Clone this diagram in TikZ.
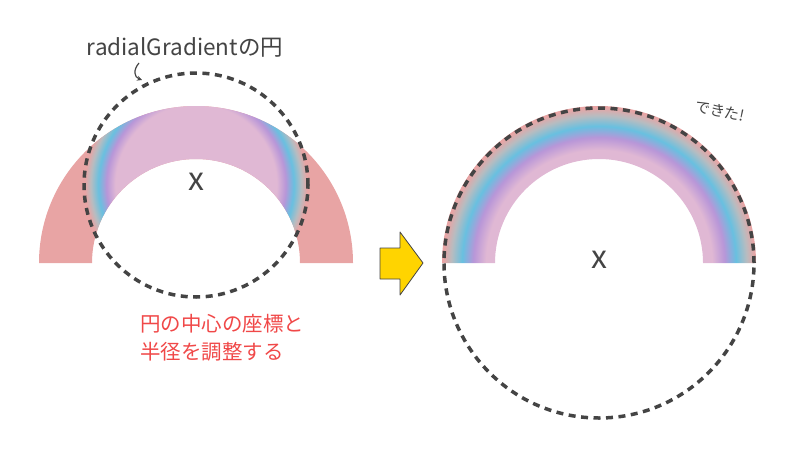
\documentclass[tikz,border=0pt]{standalone}
\usepackage{fontspec}
\usetikzlibrary{arrows.meta}
\setmainfont{Noto Sans CJK JP}
\definecolor{pinkr}{HTML}{E8A4A4}
\definecolor{lilac}{HTML}{E0B8D4}
\definecolor{purp}{HTML}{B896D8}
\definecolor{skyb}{HTML}{68C0E0}
\definecolor{greyb}{HTML}{B8BCC0}
\definecolor{dk}{HTML}{444444}
\definecolor{redt}{HTML}{F04848}
\definecolor{yel}{HTML}{FFD400}
\pgfdeclareradialshading{rainbow}{\pgfpoint{0bp}{0bp}}{color(0bp)=(lilac); color(18bp)=(lilac); color(20bp)=(purp); color(21.8bp)=(skyb); color(23.5bp)=(greyb); color(24.8bp)=(pinkr); color(50bp)=(pinkr)}
\tikzset{dcircle/.style={draw=dk,line width=3.5pt,dash pattern=on 7pt off 5.5pt},
xmark/.style={text=dk,font=\fontsize{32}{32}\selectfont,inner sep=0pt},
lbl/.style={text=dk,inner sep=0pt}}
\begin{document}
\begin{tikzpicture}[x=1pt,y=-1pt]
\useasboundingbox (0,0) rectangle (799,455);
% left rainbow
\begin{scope}
\clip (39,263) arc[start angle=180,end angle=0,radius=157pt] -- (300,263) arc[start angle=0,end angle=180,radius=104pt] -- cycle;
\fill[pinkr] (0,0) rectangle (400,300);
\shade[shading=rainbow] (196,185) circle (112pt);
\end{scope}
\draw[dcircle] (196,185) circle (112pt);
\node[xmark] (xl) at (196,182) {x};
% right rainbow
\begin{scope}
\clip (442,263) arc[start angle=180,end angle=0,radius=157pt] -- (703,263) arc[start angle=0,end angle=180,radius=104pt] -- cycle;
\shade[shading=rainbow] (599,263) circle (157pt);
\end{scope}
\draw[dcircle] (599,263) circle (155pt);
\node[xmark] (xr) at (599,260) {x};
% texts
\node[lbl,font=\fontsize{22.5}{22.5}\selectfont] (t1) at (185,47) {radialGradientの円};
\coordinate (a1) at (139,63);
\coordinate (a2) at (142,80);
\draw[dk,line width=1.2pt,-{Stealth[length=5pt,width=5pt]}] (a1) .. controls (133,70) and (134,77) .. (a2);
\node[lbl,text=redt,font=\fontsize{20.5}{28}\selectfont,align=left,anchor=north west] (t2) at (140,314) {円の中心の座標と\\半径を調整する};
\node[lbl,rotate=-12,font=\fontsize{15}{15}\selectfont] (t3) at (720,111) {できた!};
% yellow arrow
\draw[fill=yel,draw=dk,line width=0.8pt,line join=round] (380,248) -- (400,248) -- (400,232) -- (423,263) -- (400,295) -- (400,279) -- (380,279) -- cycle;
\end{tikzpicture}
\end{document}
